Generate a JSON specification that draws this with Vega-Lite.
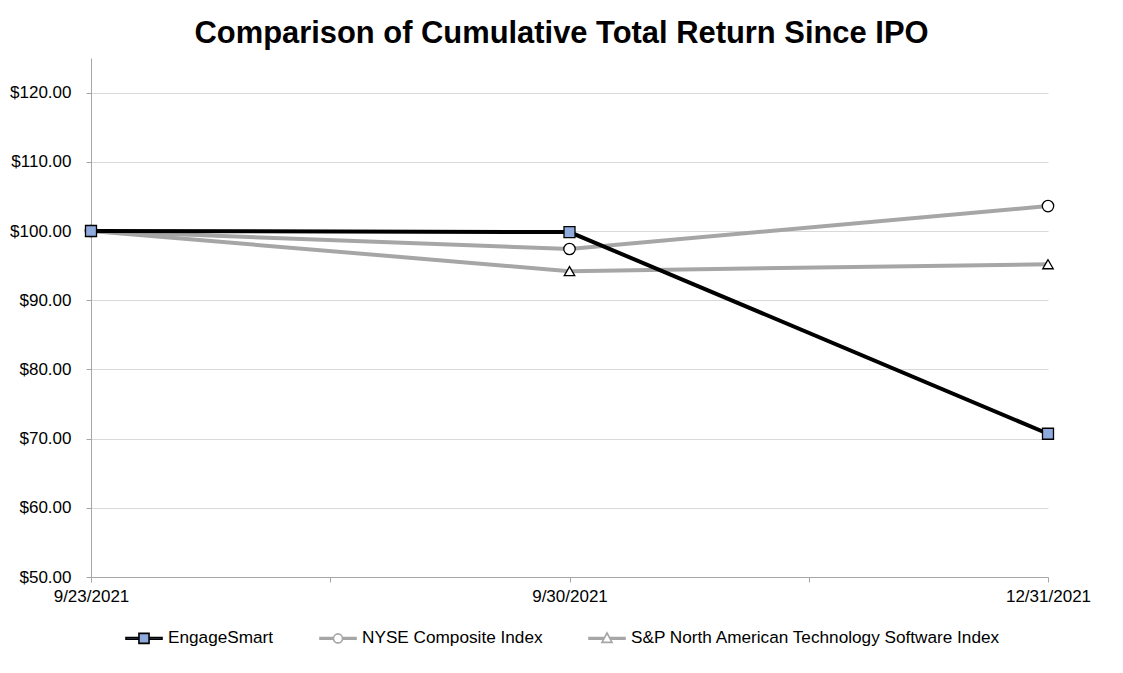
{
  "$schema": "https://vega.github.io/schema/vega-lite/v6.json",
  "width": 957,
  "height": 519,
  "autosize": "none",
  "padding": {"left": 91, "top": 58, "right": 75, "bottom": 96},
  "background": "white",
  "config": {
    "view": {"stroke": null},
    "font": "Liberation Sans",
    "axis": {"labelFont": "Liberation Sans", "labelFontSize": 17, "labelColor": "#000000"},
    "legend": {"labelFont": "Liberation Sans", "labelFontSize": 17.2, "labelColor": "#000000"}
  },
  "title": {
    "text": "Comparison of Cumulative Total Return Since IPO",
    "font": "Liberation Sans",
    "fontSize": 30.9,
    "fontWeight": "bold",
    "color": "#000000",
    "anchor": "middle",
    "frame": "group",
    "dx": -8,
    "offset": 8
  },
  "data": {
    "values": [
      {"date": "9/23/2021", "series": "NYSE Composite Index", "value": 100.0},
      {"date": "9/30/2021", "series": "NYSE Composite Index", "value": 97.4},
      {"date": "12/31/2021", "series": "NYSE Composite Index", "value": 103.6},
      {"date": "9/23/2021", "series": "S&P North American Technology Software Index", "value": 100.0},
      {"date": "9/30/2021", "series": "S&P North American Technology Software Index", "value": 94.2},
      {"date": "12/31/2021", "series": "S&P North American Technology Software Index", "value": 95.2},
      {"date": "9/23/2021", "series": "EngageSmart", "value": 100.0},
      {"date": "9/30/2021", "series": "EngageSmart", "value": 99.85},
      {"date": "12/31/2021", "series": "EngageSmart", "value": 70.7}
    ]
  },
  "encoding": {
    "x": {
      "field": "date",
      "type": "ordinal",
      "sort": null,
      "scale": {"type": "point", "padding": 0, "domain": ["9/23/2021", "m1", "9/30/2021", "m2", "12/31/2021"]},
      "axis": {
        "title": null,
        "labelAngle": 0,
        "labelExpr": "(datum.value == 'm1' || datum.value == 'm2') ? '' : datum.value",
        "domainColor": "#A6A6A6",
        "tickColor": "#A6A6A6",
        "tickSize": 5,
        "labelPadding": 6,
        "grid": false
      }
    },
    "y": {
      "field": "value",
      "type": "quantitative",
      "scale": {"domain": [50, 125], "nice": false, "zero": false},
      "axis": {
        "title": null,
        "values": [50, 60, 70, 80, 90, 100, 110, 120],
        "format": "$.2f",
        "domainColor": "#A6A6A6",
        "tickColor": "#A6A6A6",
        "tickSize": 5,
        "labelPadding": 15,
        "gridColor": "#D9D9D9",
        "gridWidth": 1
      }
    }
  },
  "layer": [
    {
      "mark": {"type": "line", "strokeWidth": 4},
      "encoding": {
        "color": {
          "field": "series",
          "type": "nominal",
          "scale": {
            "domain": ["EngageSmart", "NYSE Composite Index", "S&P North American Technology Software Index"],
            "range": ["#000000", "#A6A6A6", "#A6A6A6"]
          },
          "legend": {
            "title": null,
            "orient": "none",
            "direction": "horizontal",
            "legendX": 34,
            "legendY": 561,
            "columnPadding": 42,
            "labelOffset": 5,
            "labelLimit": 0,
            "symbolSize": 1296,
            "symbolStrokeWidth": 1.6,
            "encode": {
              "symbols": {
                "update": {
                  "shape": {"signal": "datum.value == 'EngageSmart' ? 'M-1,-0.045H-0.28V0.045H-1ZM0.28,-0.045H1V0.045H0.28ZM-0.28,-0.28H0.28V0.28H-0.28Z' : (datum.value == 'NYSE Composite Index' ? 'M-1,-0.045H-0.25V0.045H-1ZM0.25,-0.045H1V0.045H0.25ZM-0.25,0A0.25,0.25 0 1,0 0.25,0A0.25,0.25 0 1,0 -0.25,0Z' : 'M-1,-0.045H-0.2V0.045H-1ZM0.2,-0.045H1V0.045H0.2ZM0,-0.3L0.28,0.22L-0.28,0.22Z')"},
                  "fill": {"signal": "datum.value == 'EngageSmart' ? '#8FAADC' : '#FFFFFF'"},
                  "stroke": {"signal": "datum.value == 'EngageSmart' ? '#000000' : '#A6A6A6'"},
                  "strokeWidth": {"value": 1.6},
                  "size": {"value": 1296},
                  "opacity": {"value": 1}
                }
              }
            }
          }
        }
      }
    },
    {
      "transform": [{"filter": "datum.series == 'NYSE Composite Index'"}],
      "mark": {"type": "point", "shape": "circle", "filled": true, "fill": "#FFFFFF", "stroke": "#000000", "strokeWidth": 1.3, "size": 130, "opacity": 1},
      "encoding": {}
    },
    {
      "transform": [{"filter": "datum.series == 'S&P North American Technology Software Index'"}],
      "mark": {"type": "point", "shape": "triangle-up", "filled": true, "fill": "#FFFFFF", "stroke": "#000000", "strokeWidth": 1.3, "size": 110, "opacity": 1},
      "encoding": {}
    },
    {
      "transform": [{"filter": "datum.series == 'EngageSmart'"}],
      "mark": {"type": "point", "shape": "square", "filled": true, "fill": "#8FAADC", "stroke": "#000000", "strokeWidth": 1.3, "size": 121, "opacity": 1},
      "encoding": {}
    }
  ]
}
